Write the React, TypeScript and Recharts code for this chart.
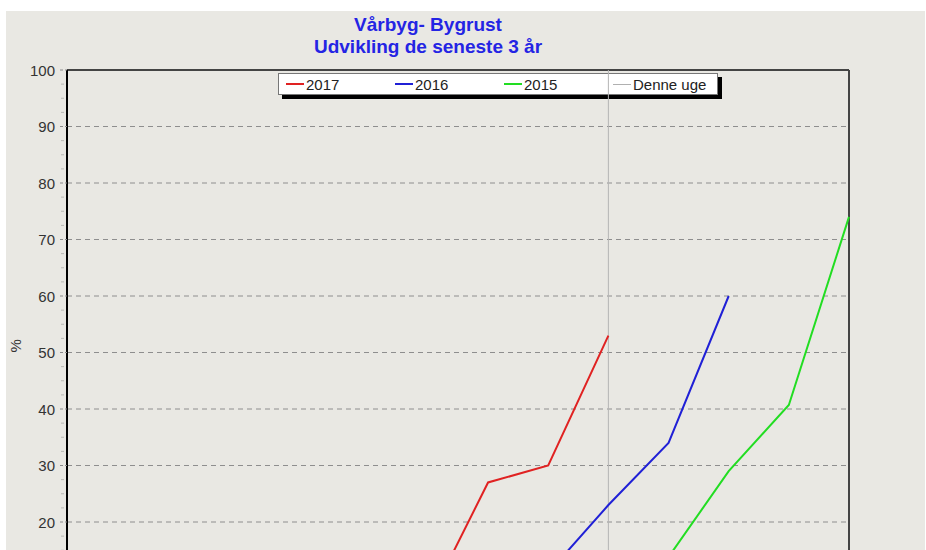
import React from "react";
import {
  LineChart,
  Line,
  XAxis,
  YAxis,
  CartesianGrid,
  ReferenceLine,
} from "recharts";

// weeks on the x axis (the axis itself sits below the visible part)
const weeks = [
  "Uge 22", "Uge 23", "Uge 24", "Uge 25", "Uge 26", "Uge 27", "Uge 28",
  "Uge 29", "Uge 30", "Uge 31", "Uge 32", "Uge 33", "Uge 34", "Uge 35",
];
const currentWeek = "Uge 31";

// % attacked plants per year
const y2017 = [0, 0, 0.5, 1, 1.5, 3, 5.7, 27, 30, 53, null, null, null, null];
const y2016 = [0, 0, 0.5, 1, 1.5, 2.5, 4, 6, 11, 23, 34, 60, null, null];
const y2015 = [0, 0, 0, 0.5, 1, 1.5, 2, 3, 4.5, 7, 13.8, 29, 40.7, 74];

const majorTicks = [0, 10, 20, 30, 40, 50, 60, 70, 80, 90, 100];
const allTicks = majorTicks.flatMap((v) =>
  v === 100 ? [v] : [v, v + 2.5, v + 5, v + 7.5]
);

const series = [
  { key: "y2017", name: "2017", color: "#e02222" },
  { key: "y2016", name: "2016", color: "#2020d6" },
  { key: "y2015", name: "2015", color: "#22dd22" },
];

const data = weeks.map((uge, i) => ({
  uge,
  y2017: y2017[i],
  y2016: y2016[i],
  y2015: y2015[i],
}));

const FONT = "'Liberation Sans', Arial, sans-serif";
const TICK_SIZE = 5;
const TICK_MARGIN = 6;

function PctTick(props: any) {
  const { x, y, payload } = props;
  const v = payload.value as number;
  const axisX = x + TICK_MARGIN + TICK_SIZE;
  if (v % 10 !== 0) {
    return (
      <line x1={axisX - 6} x2={axisX - 3} y1={y} y2={y} stroke="#b8b8b4" />
    );
  }
  return (
    <g>
      <line
        x1={axisX - 7}
        x2={axisX}
        y1={y}
        y2={y}
        stroke="#8a8a8a"
        strokeDasharray="3 2"
      />
      <text
        x={axisX - 12}
        y={y}
        textAnchor="end"
        dominantBaseline="central"
        fill="#333"
        fontSize={15}
        fontFamily={FONT}
      >
        {v}
      </text>
    </g>
  );
}

function LegendBox() {
  const items = [
    ...series.map((s) => ({ name: s.name, color: s.color, w: 2 })),
    { name: "Denne uge", color: "#b0b0b0", w: 1 },
  ];
  return (
    <div
      style={{
        position: "absolute",
        left: 272,
        top: 62,
        width: 438,
        height: 20,
        background: "#fff",
        border: "1px solid #777",
        boxShadow: "4px 4px 0 #000",
        display: "flex",
        alignItems: "center",
        fontFamily: FONT,
        fontSize: 15,
        color: "#222",
      }}
    >
      {items.map((it) => (
        <div
          key={it.name}
          style={{
            width: 109,
            display: "flex",
            alignItems: "center",
            paddingLeft: 7,
            boxSizing: "border-box",
          }}
        >
          <span
            style={{
              display: "inline-block",
              width: 18,
              height: it.w,
              background: it.color,
              marginRight: 2,
            }}
          />
          {it.name}
        </div>
      ))}
    </div>
  );
}

export default function App() {
  return (
    <div
      style={{
        position: "absolute",
        left: 6,
        top: 11,
        width: 919,
        height: 539,
        overflow: "hidden",
        background: "#e9e8e3",
      }}
    >
      <div
        style={{
          position: "absolute",
          left: 222,
          top: 3,
          width: 400,
          textAlign: "center",
          fontFamily: FONT,
          fontWeight: "bold",
          fontSize: 19,
          lineHeight: "22px",
          color: "#2424e4",
        }}
      >
        <div>Vårbyg- Bygrust</div>
        <div>Udvikling de seneste 3 år</div>
      </div>
      <LegendBox />
      <div style={{ position: "absolute", left: -6, top: -11 }}>
        <LineChart
          width={926}
          height={700}
          data={data}
          margin={{ top: 70, right: 77, bottom: 35, left: 7 }}
        >
          <CartesianGrid
            vertical={false}
            horizontalValues={majorTicks}
            stroke="#8e8e8e"
            strokeDasharray="5 4"
          />
          <XAxis
            dataKey="uge"
            height={30}
            padding={{ left: 0, right: 0 }}
            axisLine={{ stroke: "#000", strokeWidth: 2 }}
            tick={false}
            tickLine={false}
          />
          <YAxis
            type="number"
            domain={[0, 100]}
            ticks={allTicks}
            interval={0}
            width={60}
            tickSize={TICK_SIZE}
            tickMargin={TICK_MARGIN}
            tickLine={false}
            tick={<PctTick />}
            axisLine={{ stroke: "#000", strokeWidth: 2 }}
            label={{
              value: "%",
              angle: -90,
              position: "insideLeft",
              offset: 9,
              fontSize: 15,
              fontFamily: FONT,
              fill: "#333",
            }}
          />
          {/* plot frame: top and right edges */}
          <ReferenceLine y={100} stroke="#444" strokeWidth={2} />
          <ReferenceLine
            x={weeks[weeks.length - 1]}
            stroke="#444"
            strokeWidth={2}
          />
          <ReferenceLine x={currentWeek} stroke="#b4b4b4" strokeWidth={1} />
          {series.map((s) => (
            <Line
              key={s.key}
              type="linear"
              dataKey={s.key}
              name={s.name}
              stroke={s.color}
              strokeWidth={2}
              dot={false}
              activeDot={false}
              isAnimationActive={false}
            />
          ))}
        </LineChart>
      </div>
    </div>
  );
}
